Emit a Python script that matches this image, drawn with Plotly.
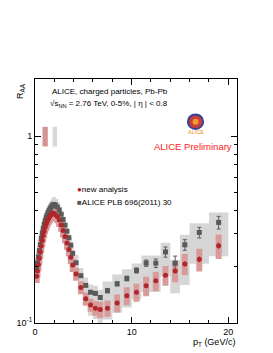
import plotly.graph_objects as go

# ---------------- data ----------------
pt_edges = [0.15, 0.2, 0.3, 0.4, 0.5, 0.6, 0.7, 0.8, 0.9, 1.0, 1.1, 1.2, 1.3, 1.4, 1.5,
            1.6, 1.7, 1.8, 1.9, 2.0, 2.2, 2.4, 2.6, 2.8, 3.0, 3.2, 3.4, 3.6, 3.8, 4.0,
            4.5, 5.0, 5.5, 6.0, 6.5, 7.0, 8.0, 9.0, 10.0, 11.0, 12.0, 13.0, 14.0, 15.0,
            16.0, 18.0, 20.0]

raa_new = [0.178, 0.190, 0.205, 0.222, 0.240, 0.258, 0.276, 0.294, 0.310, 0.325,
           0.337, 0.348, 0.358, 0.366, 0.373, 0.379, 0.383, 0.386, 0.386,
           0.381, 0.371, 0.355, 0.334, 0.312, 0.290, 0.268, 0.247, 0.225, 0.204,
           0.183, 0.155, 0.135, 0.125, 0.120, 0.118, 0.120, 0.128, 0.140, 0.146,
           0.158, 0.168, 0.180, 0.190, 0.207, 0.219, 0.259]
stat_new = [0.001] * 38 + [0.003, 0.003, 0.004, 0.004, 0.005, 0.006, 0.008, 0.010]
sys_new = [0.08] * 29 + [0.08, 0.08, 0.08, 0.08, 0.09, 0.10, 0.10, 0.11, 0.11,
                          0.11, 0.12, 0.12, 0.12, 0.13, 0.13, 0.14, 0.15]

raa_plb = [0.198, 0.210, 0.226, 0.244, 0.263, 0.283, 0.302, 0.320, 0.337, 0.352,
           0.366, 0.378, 0.389, 0.399, 0.408, 0.416, 0.423, 0.428, 0.431,
           0.428, 0.418, 0.402, 0.382, 0.358, 0.334, 0.310, 0.286, 0.261, 0.236,
           0.210, 0.179, 0.159, 0.146, 0.144, 0.137, 0.149, 0.162, 0.173, 0.191,
           0.209, 0.209, 0.240, 0.209, 0.262, 0.305, 0.345]
stat_plb = [0.001] * 34 + [0.003, 0.004, 0.004, 0.005, 0.006, 0.008, 0.011,
                           0.015, 0.019, 0.017, 0.020, 0.027]
sys_plb_hi = [0.10] * 29 + [0.10, 0.10, 0.10, 0.10, 0.10, 0.10, 0.12, 0.12, 0.12,
                             0.09, 0.10, 0.10, 0.12, 0.04, 0.13, 0.12, 0.13]
sys_plb_lo = [0.10] * 29 + [0.15, 0.15, 0.22, 0.25, 0.27, 0.30, 0.30, 0.30, 0.30,
                             0.30, 0.30, 0.30, 0.26, 0.31, 0.39, 0.32, 0.34]

norm_pt = [1.05, 2.05]
norm_width = [0.55, 0.45]
norm_unc = [0.12, 0.12]

# ---------------- derived ----------------
pt = [(a + b) / 2 for a, b in zip(pt_edges[:-1], pt_edges[1:])]
binw = [b - a for a, b in zip(pt_edges[:-1], pt_edges[1:])]

RED = "#b0262a"
RED_BOX = "#d99a9a"
GRAY = "#5a5a5a"
GRAY_BOX = "#d6d6d6"
FONT = "Liberation Sans, Arial, sans-serif"
RED_BOX_W = 0.62


def box_path(xc, widths, lo, hi):
    xs, ys = [], []
    for x, w, l, h in zip(xc, widths, lo, hi):
        xs += [x - w / 2, x + w / 2, x + w / 2, x - w / 2, x - w / 2, None]
        ys += [l, l, h, h, l, None]
    return xs, ys


fig = go.Figure()

# PLB systematic boxes
gx, gy = box_path(pt, binw,
                  [r * (1 - s) for r, s in zip(raa_plb, sys_plb_lo)],
                  [r * (1 + s) for r, s in zip(raa_plb, sys_plb_hi)])
fig.add_trace(go.Scatter(x=gx, y=gy, mode="lines", fill="toself", fillcolor=GRAY_BOX,
                         line=dict(width=0), hoverinfo="skip", showlegend=False))

# new analysis systematic boxes
rx, ry = box_path(pt, [RED_BOX_W] * len(pt),
                  [r * (1 - s) for r, s in zip(raa_new, sys_new)],
                  [r * (1 + s) for r, s in zip(raa_new, sys_new)])
fig.add_trace(go.Scatter(x=rx, y=ry, mode="lines", fill="toself", fillcolor=RED_BOX,
                         line=dict(width=0), hoverinfo="skip", showlegend=False))

# normalisation boxes
nx, ny = box_path(norm_pt, norm_width, [1 - u for u in norm_unc], [1 + u for u in norm_unc])
for i, col in enumerate(["#d49494", "#d8d8d8"]):
    fig.add_trace(go.Scatter(x=nx[i * 6:(i + 1) * 6], y=ny[i * 6:(i + 1) * 6], mode="lines",
                             fill="toself", fillcolor=col, line=dict(width=0),
                             hoverinfo="skip", showlegend=False))

fig.add_trace(go.Scatter(x=pt, y=raa_plb, mode="markers",
                         marker=dict(symbol="square", size=5, color=GRAY),
                         error_y=dict(type="data", array=stat_plb, color=GRAY, thickness=1, width=2),
                         name="ALICE PLB 696(2011) 30", showlegend=False))
fig.add_trace(go.Scatter(x=pt, y=raa_new, mode="markers",
                         marker=dict(symbol="circle", size=5, color=RED),
                         error_y=dict(type="data", array=stat_new, color=RED, thickness=1, width=0),
                         name="new analysis", showlegend=False))

# page body adds an 8px margin: compensate so the frame lands where it should
fig.update_layout(
    width=265, height=345,
    margin=dict(l=27, r=36, t=71, b=30, autoexpand=False),
    paper_bgcolor="white", plot_bgcolor="white",
    font=dict(family=FONT, size=8, color="black"),
    showlegend=False,
)
fig.update_xaxes(range=[0, 20.9], showgrid=False, zeroline=False, showline=True,
                 automargin=False,
                 linecolor="black", linewidth=1, mirror="allticks", ticks="inside",
                 ticklen=6, tickcolor="black", tickvals=[0, 10, 20],
                 tickfont=dict(size=9, family=FONT),
                 minor=dict(ticks="inside", ticklen=3, tickcolor="black",
                            tickvals=[2, 4, 6, 8, 12, 14, 16, 18], showgrid=False))
fig.update_yaxes(type="log", range=[-1, 0.305], showgrid=False, zeroline=False,
                 automargin=False,
                 showline=True, linecolor="black", linewidth=1, mirror="allticks",
                 ticks="inside", ticklen=6, tickcolor="black",
                 tickvals=[0.1, 1], ticktext=["10<sup>-1</sup>", "1"],
                 tickfont=dict(size=9, family=FONT),
                 minor=dict(ticks="inside", ticklen=3, tickcolor="black",
                            tickvals=[0.2, 0.3, 0.4, 0.5, 0.6, 0.7, 0.8, 0.9, 2],
                            showgrid=False))

ann = [
    dict(text="R<sub>AA</sub>", xref="paper", yref="paper", x=0, y=1, xshift=-15,
         yshift=-12, textangle=-90, xanchor="center", yanchor="middle",
         font=dict(size=9)),
    dict(text="p<sub>T</sub> (GeV/c)", xref="paper", yref="paper", x=1, y=0,
         yshift=-19, xanchor="right", yanchor="middle", font=dict(size=9)),
    dict(text="ALICE, charged particles, Pb-Pb", xref="paper", yref="paper",
         x=0.074, y=0.947, xanchor="left", yanchor="middle", font=dict(size=8)),
    dict(text="√s<sub>NN</sub> = 2.76 TeV, 0-5%, | η | < 0.8", xref="paper", yref="paper",
         x=0.064, y=0.898, xanchor="left", yanchor="middle", font=dict(size=8)),
    dict(text="ALICE Preliminary", xref="paper", yref="paper", x=0.781, y=0.7225,
         xanchor="center", yanchor="middle", font=dict(size=9.5, color="#ff2020")),
    dict(text="ALICE", xref="paper", yref="paper", x=0.795, y=0.782,
         xanchor="center", yanchor="middle", font=dict(size=5.5, color="#f0901c")),
    dict(text=f"<span style='color:{RED}'>●</span>new analysis", xref="paper", yref="paper",
         x=0.2, y=0.548, xanchor="left", yanchor="middle", font=dict(size=8)),
    dict(text=f"<span style='color:{GRAY}'>■</span>ALICE PLB 696(2011) 30", xref="paper",
         yref="paper", x=0.2, y=0.495, xanchor="left", yanchor="middle", font=dict(size=8)),
]
for a in ann:
    a["showarrow"] = False
fig.update_layout(annotations=ann)

# ALICE logo (decoration)
fig.add_shape(type="circle", xref="paper", yref="paper", x0=0.757, x1=0.832,
              y0=0.795, y1=0.855, fillcolor="#c8403a", line=dict(color="#3a3f9a", width=2))
fig.add_shape(type="circle", xref="paper", yref="paper", x0=0.78, x1=0.81,
              y0=0.813, y1=0.837, fillcolor="#f09a30", line=dict(width=0))

fig.write_html("out.html")
